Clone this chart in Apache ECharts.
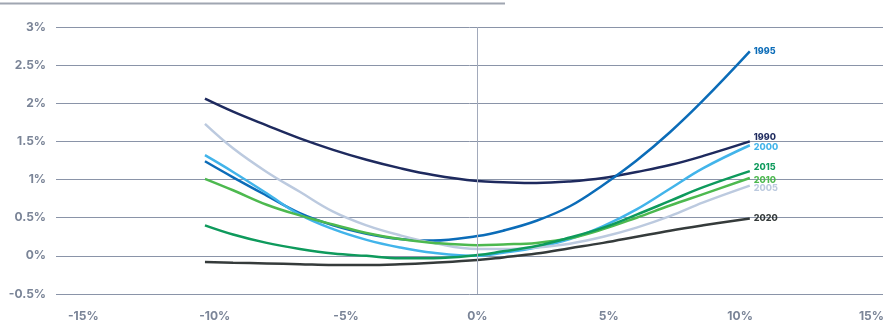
<!DOCTYPE html>
<html>
<head>
<meta charset="utf-8">
<script src="https://cdn.jsdelivr.net/npm/echarts@6/dist/echarts.min.js"></script>
<style>
  html, body { margin: 0; padding: 0; background: #ffffff; }
  #chart { width: 889px; height: 327px; }
</style>
</head>
<body>
<div id="chart"></div>
<script>
// Moneyness (x, %) at which each curve is sampled
const xs = [-10.37, -9.3, -8.02, -6.76, -5.49, -4.22, -2.95, -1.68, 0, 0.98, 2.25, 3.52, 4.79, 6.06, 7.33, 8.6, 10.37];

// Curve values (%) per year
const y1990 = [2.06, 1.89, 1.71, 1.54, 1.39, 1.26, 1.15, 1.06, 0.98, 0.965, 0.955, 0.975, 1.02, 1.10, 1.19, 1.31, 1.50];
const y1995 = [1.24, 1.03, 0.79, 0.56, 0.40, 0.29, 0.22, 0.20, 0.26, 0.33, 0.46, 0.65, 0.93, 1.25, 1.62, 2.04, 2.68];
const y2000 = [1.32, 1.10, 0.82, 0.54, 0.35, 0.21, 0.11, 0.04, 0.00, 0.04, 0.11, 0.22, 0.39, 0.61, 0.88, 1.15, 1.45];
const y2005 = [1.73, 1.41, 1.10, 0.84, 0.58, 0.40, 0.27, 0.17, 0.09, 0.09, 0.11, 0.16, 0.25, 0.37, 0.52, 0.70, 0.92];
const y2010 = [1.01, 0.86, 0.67, 0.53, 0.41, 0.30, 0.22, 0.17, 0.14, 0.15, 0.17, 0.23, 0.35, 0.50, 0.66, 0.81, 1.02];
const y2015 = [0.40, 0.28, 0.17, 0.09, 0.03, 0.00, -0.03, -0.03, 0.01, 0.06, 0.13, 0.24, 0.37, 0.54, 0.72, 0.90, 1.11];
const y2020 = [-0.08, -0.09, -0.10, -0.11, -0.12, -0.12, -0.11, -0.09, -0.055, -0.02, 0.03, 0.10, 0.17, 0.25, 0.33, 0.40, 0.49];

const years = ['1990', '1995', '2000', '2005', '2010', '2015', '2020'];
const values = [y1990, y1995, y2000, y2005, y2010, y2015, y2020];

// Tick labels
const xTicks = [-15, -10, -5, 0, 5, 10, 15];

const colors = {
  '1990': '#1e2a5e',
  '1995': '#0b6cb8',
  '2000': '#42b4ea',
  '2005': '#bccadf',
  '2010': '#4db94f',
  '2015': '#0e9a5c',
  '2020': '#353b3b'
};
// vertical nudge of the end labels so they don't collide
const labelShift = { '1990': -4, '1995': 0, '2000': 2, '2005': 3, '2010': 2, '2015': -4, '2020': 0 };

const axisText = '#7a8497';
const gridColor = '#8a94a8';
const font = 'Inter, "Open Sans", sans-serif';

const series = years.map((yr, k) => ({
  name: yr,
  type: 'line',
  data: xs.map((x, i) => [x, values[k][i]]),
  smooth: 0.4,
  showSymbol: false,
  lineStyle: { width: 2.5, color: colors[yr] },
  itemStyle: { color: colors[yr] },
  emphasis: { disabled: true },
  endLabel: {
    show: true,
    formatter: yr,
    color: colors[yr],
    fontFamily: font,
    fontWeight: 800,
    fontSize: 9,
    distance: 4,
    offset: [0, labelShift[yr]]
  },
  z: 3
}));

// zero line on the x axis
series.unshift({
  type: 'line',
  data: [],
  silent: true,
  z: 1,
  markLine: {
    silent: true,
    symbol: 'none',
    label: { show: false },
    lineStyle: { color: '#a2aabb', width: 1, type: 'solid' },
    data: [{ xAxis: 0 }]
  }
});

const chart = echarts.init(document.getElementById('chart'), null, { renderer: 'canvas' });
chart.setOption({
  animation: false,
  backgroundColor: '#ffffff',
  grid: { left: 56, right: 6, top: 27, bottom: 33 },
  graphic: [{
    type: 'line',
    shape: { x1: 0, y1: 3.5, x2: 505, y2: 3.5 },
    style: { stroke: '#a0a6b1', lineWidth: 2 }
  }],
  xAxis: {
    type: 'value',
    min: -16.04,
    max: 15.44,
    axisLine: { show: false },
    axisTick: { show: false },
    splitLine: { show: false },
    axisLabel: {
      customValues: xTicks,
      formatter: v => v + '%',
      color: axisText,
      fontFamily: font,
      fontWeight: 700,
      fontSize: 12,
      margin: 16
    }
  },
  yAxis: {
    type: 'value',
    min: -0.5,
    max: 3,
    interval: 0.5,
    axisLine: { show: false },
    axisTick: { show: false },
    splitLine: { show: true, lineStyle: { color: gridColor, width: 1 } },
    axisLabel: {
      formatter: v => v + '%',
      color: axisText,
      fontFamily: font,
      fontWeight: 700,
      fontSize: 12,
      margin: 10
    }
  },
  series: series
});
</script>
</body>
</html>
